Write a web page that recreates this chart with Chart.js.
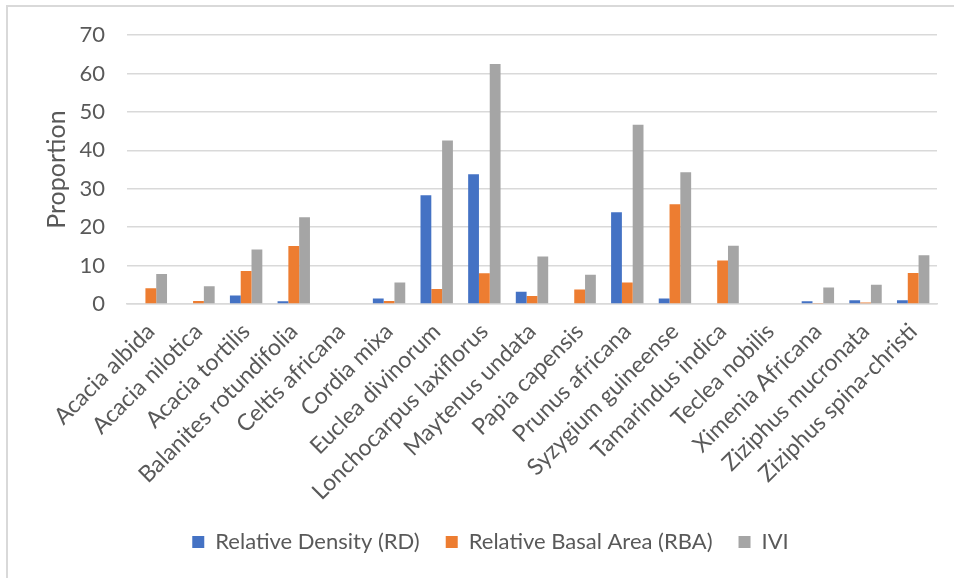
<!DOCTYPE html>
<html>
<head>
<meta charset="utf-8">
<script src="https://cdn.jsdelivr.net/npm/chart.js@4/dist/chart.umd.min.js"></script>
<style>
  html, body { margin: 0; padding: 0; background: #ffffff; }
  #wrap { position: relative; width: 954px; height: 578px; overflow: hidden; }
  #frame { position: absolute; left: 6px; top: 5px; width: 960px; height: 590px;
           border-top: 2px solid #d9d9d9; border-left: 2px solid #d9d9d9; pointer-events: none; }
  canvas { position: absolute; left: 0; top: 0; }
</style>
</head>
<body>
<div id="wrap">
  <canvas id="chart" width="954" height="578"></canvas>
  <div id="frame"></div>
</div>
<script>
// Tree species surveyed
const species = [
  'Acacia albida', 'Acacia nilotica', 'Acacia tortilis', 'Balanites rotundifolia',
  'Celtis africana', 'Cordia mixa', 'Euclea divinorum', 'Lonchocarpus laxiflorus',
  'Maytenus undata', 'Papia capensis', 'Prunus africana', 'Syzygium guineense',
  'Tamarindus indica', 'Teclea nobilis', 'Ximenia Africana', 'Ziziphus mucronata',
  'Ziziphus spina-christi'
];

// Relative Density (RD)
const relativeDensity = [0.2, 0.2, 2.2, 0.7, 0, 1.4, 28.3, 33.8, 3.2, 0.2, 23.9, 1.4, 0.2, 0, 0.7, 1.0, 1.0];
// Relative Basal Area (RBA)
const relativeBasalArea = [4.1, 0.8, 8.6, 15.1, 0, 0.8, 3.9, 8.0, 2.1, 3.8, 5.6, 26.0, 11.3, 0, 0.1, 0.4, 8.1];
// Importance Value Index
const ivi = [7.8, 4.6, 14.2, 22.6, 0, 5.6, 42.6, 62.5, 12.4, 7.6, 46.7, 34.3, 15.2, 0, 4.3, 5.0, 12.7];

// Value axis ticks
const yTicks = [0, 10, 20, 30, 40, 50, 60, 70];

const FONT = "Lato, 'Open Sans', sans-serif";
const TEXT = '#595959';
const GRID = '#d9d9d9';

// Nudges the legend row so it sits centred under the labels
const legendOffset = {
  id: 'legendOffset',
  afterLayout(chart) {
    const lg = chart.legend;
    if (!lg) return;
    const dx = 22;
    lg.left += dx;
    lg.right += dx;
  }
};

new Chart(document.getElementById('chart'), {
  type: 'bar',
  data: {
    labels: species,
    datasets: [
      { label: 'Relative Density (RD)', data: relativeDensity, backgroundColor: '#4472C4' },
      { label: 'Relative Basal Area (RBA)', data: relativeBasalArea, backgroundColor: '#ED7D31' },
      { label: 'IVI', data: ivi, backgroundColor: '#A5A5A5' }
    ]
  },
  options: {
    responsive: false,
    animation: false,
    devicePixelRatio: 1,
    layout: { padding: { top: 33, right: 17, bottom: 15, left: 0 } },
    datasets: { bar: { categoryPercentage: 0.68, barPercentage: 1.0 } },
    scales: {
      x: {
        grid: { display: false, drawTicks: false },
        border: { display: true, color: GRID, width: 1.5 },
        ticks: {
          autoSkip: false, maxRotation: 45, minRotation: 45, padding: 14,
          color: TEXT, font: { family: FONT, size: 23 }
        },
        afterFit(scale) { scale.height = 201; }
      },
      y: {
        min: yTicks[0],
        max: yTicks[yTicks.length - 1],
        afterBuildTicks(scale) { scale.ticks = yTicks.map(v => ({ value: v })); },
        grid: { color: GRID, lineWidth: 1.5, drawTicks: false },
        border: { display: false },
        ticks: { padding: 22, color: TEXT, font: { family: FONT, size: 22 } },
        title: {
          display: true, text: 'Proportion', color: TEXT,
          font: { family: FONT, size: 25 }, padding: { top: 42, bottom: 0 }
        },
        afterFit(scale) { scale.width = 127; }
      }
    },
    plugins: {
      legend: {
        position: 'bottom',
        labels: {
          boxWidth: 12, boxHeight: 12, padding: 26, color: TEXT,
          font: { family: FONT, size: 22 }
        }
      },
      tooltip: { enabled: false }
    }
  },
  plugins: [legendOffset]
});
</script>
</body>
</html>
